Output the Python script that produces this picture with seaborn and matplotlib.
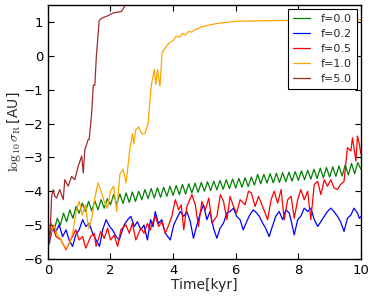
import numpy as np
import pandas as pd
import matplotlib
matplotlib.use('Agg')
import matplotlib.pyplot as plt
import seaborn as sns

# time [kyr] and log10 sigma_R [AU]
t_f00 = [round(0.1 * i, 1) for i in range(101)]
s_f00 = [-5.60, -4.95, -5.15, -4.80, -5.00, -4.65, -4.90, -4.55, -4.80, -4.45,
         -4.65, -4.35, -4.60, -4.30, -4.58, -4.28, -4.55, -4.25, -4.50, -4.22,
         -4.40, -4.10, -4.38, -4.08, -4.36, -4.05, -4.33, -4.02, -4.30, -4.00,
         -4.25, -3.95, -4.22, -3.92, -4.20, -3.90, -4.18, -3.88, -4.15, -3.85,
         -4.12, -3.83, -4.10, -3.80, -4.08, -3.78, -4.05, -3.76, -4.03, -3.74,
         -4.00, -3.72, -3.98, -3.70, -3.96, -3.68, -3.94, -3.66, -3.92, -3.64,
         -3.90, -3.62, -3.88, -3.60, -3.86, -3.58, -3.82, -3.50, -3.78, -3.50,
         -3.76, -3.48, -3.75, -3.47, -3.74, -3.45, -3.72, -3.44, -3.70, -3.42,
         -3.68, -3.40, -3.66, -3.38, -3.64, -3.35, -3.62, -3.32, -3.60, -3.30,
         -3.58, -3.28, -3.56, -3.25, -3.55, -3.22, -3.52, -3.18, -3.48, -3.15,
         -3.35]

t_f02 = [0.0, 0.04, 0.15, 0.25, 0.36, 0.47, 0.58, 0.68, 0.79, 0.89, 1.0, 1.11, 1.21, 1.32, 1.43,
         1.54, 1.65, 1.75, 1.86, 1.97, 2.07, 2.18, 2.28, 2.44, 2.55, 2.65, 2.76, 2.86, 2.97, 3.07,
         3.18, 3.28, 3.36, 3.43, 3.53, 3.64, 3.75, 3.91, 4.02, 4.12, 4.23, 4.34, 4.44, 4.55, 4.65,
         4.76, 4.87, 4.97, 5.08, 5.18, 5.29, 5.4, 5.5, 5.61, 5.72, 5.82, 5.93, 6.03, 6.14, 6.24,
         6.35, 6.45, 6.56, 6.67, 6.76, 6.86, 6.96, 7.07, 7.17, 7.28, 7.39, 7.5, 7.6, 7.71, 7.79,
         7.87, 7.98, 8.08, 8.19, 8.3, 8.4, 8.51, 8.62, 8.72, 8.83, 8.93, 9.04, 9.14, 9.25, 9.35,
         9.46, 9.57, 9.68, 9.78, 9.89, 9.95, 10.0]
s_f02 = [-5.60, -5.53, -5.09, -5.20, -4.99, -5.34, -5.14, -5.44, -5.63, -5.29, -5.14, -4.84, -5.04, -4.95, -5.24,
         -5.44, -5.63, -5.14, -4.84, -5.04, -5.15, -5.34, -5.44, -4.99, -4.84, -4.74, -5.04, -4.90, -5.14, -5.00,
         -5.44, -4.84, -5.05, -4.60, -4.95, -4.84, -5.24, -5.44, -5.00, -4.80, -4.60, -4.74, -4.60, -4.90, -5.39,
         -5.00, -4.64, -4.40, -4.84, -4.60, -5.09, -5.39, -5.09, -4.94, -4.64, -4.60, -4.50, -4.74, -4.84, -5.14,
         -4.90, -4.70, -4.55, -4.64, -4.75, -4.94, -5.10, -5.34, -5.04, -4.74, -4.60, -4.84, -4.55, -4.64, -4.95,
         -5.29, -4.84, -4.74, -4.50, -4.60, -4.50, -4.84, -5.04, -4.90, -4.74, -4.60, -4.50, -4.60, -4.74, -4.90,
         -5.19, -4.80, -4.70, -4.50, -4.64, -4.80, -4.75]

t_f05 = [0.0, 0.04, 0.15, 0.26, 0.42, 0.58, 0.73, 0.89, 1.0, 1.11, 1.21, 1.37, 1.48, 1.54, 1.69,
         1.8, 1.91, 2.0, 2.12, 2.23, 2.33, 2.49, 2.6, 2.7, 2.81, 2.97, 3.07, 3.18, 3.27, 3.34,
         3.43, 3.54, 3.64, 3.75, 3.86, 3.96, 4.07, 4.18, 4.26, 4.34, 4.44, 4.6, 4.71, 4.81, 4.92,
         5.03, 5.14, 5.24, 5.4, 5.51, 5.61, 5.72, 5.82, 5.93, 6.03, 6.14, 6.3, 6.41, 6.5, 6.62,
         6.73, 6.86, 7.02, 7.13, 7.23, 7.34, 7.45, 7.55, 7.66, 7.77, 7.87, 7.98, 8.08, 8.19, 8.3,
         8.4, 8.51, 8.62, 8.72, 8.83, 8.93, 9.04, 9.14, 9.25, 9.35, 9.46, 9.57, 9.68, 9.73, 9.84,
         9.89, 9.95, 10.0]
s_f05 = [-5.60, -5.44, -5.04, -5.34, -5.44, -5.73, -5.44, -5.14, -5.44, -5.34, -5.68, -5.34, -5.24, -5.63, -5.19,
         -5.39, -5.09, -5.44, -5.30, -5.63, -5.14, -4.99, -5.24, -4.95, -5.44, -5.09, -5.24, -4.95, -5.15, -4.94,
         -4.74, -5.04, -4.90, -5.24, -5.00, -4.74, -4.25, -4.55, -4.40, -5.14, -4.45, -4.10, -4.40, -5.04, -4.30,
         -4.55, -4.20, -4.94, -4.74, -4.10, -4.30, -4.84, -4.15, -4.45, -4.64, -4.25, -4.40, -4.00, -4.05, -4.45,
         -4.15, -4.45, -4.84, -4.25, -4.00, -4.35, -3.95, -4.84, -4.25, -4.15, -4.80, -4.25, -3.95, -4.25, -4.00,
         -4.84, -3.80, -3.71, -4.10, -3.66, -3.85, -3.66, -3.90, -3.95, -3.80, -3.71, -2.71, -2.81, -2.42, -3.11,
         -2.37, -2.61, -2.90]

t_f10 = [0.0, 0.1, 0.2, 0.3, 0.4, 0.5, 0.6, 0.7, 0.8, 0.9, 1.0, 1.1, 1.2, 1.3, 1.4,
         1.5, 1.6, 1.7, 1.8, 1.9, 2.0, 2.1, 2.2, 2.3, 2.4, 2.5, 2.6, 2.7, 2.75, 2.8,
         2.9, 3.0, 3.1, 3.2, 3.3, 3.4, 3.45, 3.5, 3.58, 3.65, 3.8, 3.9, 4.0, 4.1, 4.2,
         4.3, 4.4, 4.5, 4.6, 4.7, 4.8, 4.9, 5.0, 5.2, 5.5, 6.0, 7.0, 8.0, 9.0, 10.0]
s_f10 = [-5.50, -5.20, -5.00, -5.30, -5.40, -5.60, -5.70, -5.50, -5.20, -4.60, -4.30, -4.70, -4.40, -5.10, -4.80,
         -4.20, -3.75, -4.00, -4.30, -4.50, -4.00, -3.85, -4.60, -3.50, -3.35, -3.75, -2.90, -2.30, -2.60, -2.20,
         -2.10, -2.30, -2.30, -2.00, -0.90, -0.40, -0.85, -0.40, -0.90, 0.10, 0.30, 0.40, 0.45, 0.58, 0.55,
         0.66, 0.62, 0.72, 0.70, 0.78, 0.80, 0.86, 0.87, 0.92, 0.97, 1.02, 1.04, 1.05, 1.06, 1.06]

t_f50 = [0.0, 0.06, 0.12, 0.17, 0.22, 0.28, 0.38, 0.49, 0.54, 0.65, 0.76, 0.86, 0.97, 1.08, 1.13,
         1.18, 1.29, 1.32, 1.40, 1.45, 1.50, 1.55, 1.64, 1.71, 1.93, 2.09, 2.35, 2.51, 2.6]
s_f50 = [-5.60, -5.53, -4.15, -3.95, -4.15, -4.20, -3.95, -4.25, -3.66, -3.85, -3.56, -3.66, -3.26, -2.96, -3.46,
         -2.77, -2.47, -2.47, -1.68, -0.87, -0.87, 0.00, 1.04, 1.11, 1.19, 1.27, 1.31, 1.54, 1.70]

labels = ['f=0.0', 'f=0.2', 'f=0.5', 'f=1.0', 'f=5.0']
colors = ['green', 'blue', 'red', 'orange', 'brown']
series = [(t_f00, s_f00), (t_f02, s_f02), (t_f05, s_f05), (t_f10, s_f10), (t_f50, s_f50)]

sns.set_style('ticks')
plt.rcParams['font.family'] = ['DejaVu Sans']
plt.rcParams['mathtext.fontset'] = 'cm'
plt.rcParams['xtick.direction'] = 'in'
plt.rcParams['ytick.direction'] = 'in'
plt.rcParams['xtick.top'] = True
plt.rcParams['ytick.right'] = True

fig = plt.figure(figsize=(3.74, 2.99), dpi=100)
ax = fig.add_axes([0.128, 0.134, 0.837, 0.849])

for (t, s), lab, c in zip(series, labels, colors):
    df = pd.DataFrame({'t': t, 's': s})
    sns.lineplot(data=df, x='t', y='s', ax=ax, color=c, label=lab, lw=0.9,
                 estimator=None, sort=False)

ax.set_xlim(0, 10)
ax.set_ylim(-6, 1.5)
ax.set_xticks([0, 2, 4, 6, 8, 10])
ax.set_yticks([-6, -5, -4, -3, -2, -1, 0, 1])
ax.tick_params(labelsize=9.5, length=4, width=0.8, colors='black')
for sp in ax.spines.values():
    sp.set_color('black')
    sp.set_linewidth(1.0)
ax.set_xlabel('Time[kyr]', fontsize=10, labelpad=1)
ax.set_ylabel(r'$\log_{10}\sigma_{\rm R}\,$[AU]', fontsize=10, labelpad=0)

leg = ax.legend(loc='upper right', fontsize=8, fancybox=False, framealpha=1,
                edgecolor='black', handlelength=1.5, borderpad=0.45, labelspacing=0.45,
                handletextpad=1.0, borderaxespad=0.35)
leg.get_frame().set_linewidth(0.8)

fig.savefig('out.png', dpi=100)
